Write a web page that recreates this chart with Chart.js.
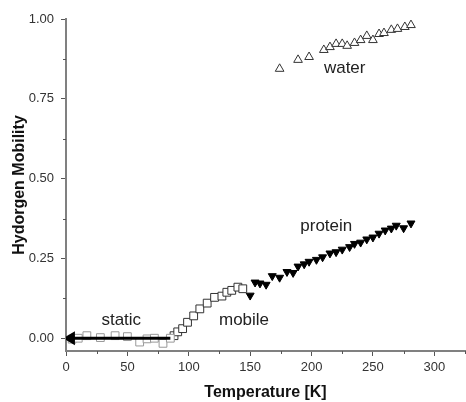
<!DOCTYPE html>
<html>
<head>
<meta charset="utf-8">
<script src="https://cdn.jsdelivr.net/npm/chart.js@4/dist/chart.umd.min.js"></script>
<style>
  body { margin: 0; background: #fff; }
  #wrap { width: 466px; height: 402px; }
</style>
</head>
<body>
<div id="wrap"><canvas id="chart" width="466" height="402"></canvas></div>
<script>
// temperature [K] / mobility
const staticT = [5, 10, 17, 28, 40, 50, 60, 66, 72, 79, 85]
const staticV = [-0.003, 0.0, 0.008, 0.002, 0.008, 0.005, -0.012, -0.002, 0.0, -0.016, 0.0]

const mobileT = [88, 91, 95, 99, 104, 109, 115, 121, 127, 131, 135, 140, 144]
const mobileV = [0.008, 0.02, 0.03, 0.05, 0.07, 0.092, 0.11, 0.128, 0.132, 0.144, 0.15, 0.16, 0.155]

const proteinT = [150, 154, 158, 163, 168, 174, 180, 185, 189, 194, 198, 204, 209, 215, 220, 225, 231, 235, 240, 245, 250, 255, 260, 265, 269, 275, 281]
const proteinV = [0.134, 0.175, 0.172, 0.168, 0.195, 0.19, 0.208, 0.205, 0.225, 0.232, 0.24, 0.246, 0.254, 0.266, 0.27, 0.278, 0.286, 0.296, 0.3, 0.31, 0.316, 0.328, 0.338, 0.344, 0.353, 0.345, 0.36]

const waterT = [174, 189, 198, 210, 215, 220, 225, 229, 235, 240, 245, 250, 255, 259, 265, 270, 276, 281]
const waterV = [0.844, 0.872, 0.881, 0.903, 0.912, 0.922, 0.922, 0.916, 0.925, 0.934, 0.947, 0.934, 0.953, 0.956, 0.966, 0.969, 0.975, 0.981]

// thick "static" arrow
const arrowT = [4, 85]
const arrowV = [0, 0]

const xTicks = [0, 50, 100, 150, 200, 250, 300]
const yTicks = [0, 0.25, 0.5, 0.75, 1.0]

const notes = [
    { text: 'static', x: 45, y: 0.056 },
    { text: 'mobile', x: 145, y: 0.056 },
    { text: 'protein', x: 212, y: 0.35 },
    { text: 'water', x: 227, y: 0.847 }
]

function pts(xs, ys) {
    return xs.map((x, i) => ({ x: x, y: ys[i] }))
}

// text labels and minor ticks
const extras = {
    id: 'extras',
    afterDraw(chart) {
        const ctx = chart.ctx
        const xs = chart.scales.x, ys = chart.scales.y
        ctx.save()
        ctx.strokeStyle = '#555'
        ctx.lineWidth = 1
        for (let v = 25; v < 330; v += 50) {
            let px = Math.round(xs.getPixelForValue(v)) + 0.5
            ctx.beginPath(); ctx.moveTo(px, ys.bottom); ctx.lineTo(px, ys.bottom + 3); ctx.stroke()
        }
        for (let v = 0.125; v < 1; v += 0.25) {
            let py = Math.round(ys.getPixelForValue(v)) + 0.5
            ctx.beginPath(); ctx.moveTo(xs.left, py); ctx.lineTo(xs.left - 3, py); ctx.stroke()
        }
        ctx.font = '17px "Liberation Sans", Arial, sans-serif'
        ctx.fillStyle = '#222'
        ctx.textAlign = 'center'
        ctx.textBaseline = 'middle'
        notes.forEach(n => {
            ctx.fillText(n.text, xs.getPixelForValue(n.x), ys.getPixelForValue(n.y))
        })
        ctx.restore()
    }
}

new Chart(document.getElementById('chart'), {
    type: 'scatter',
    data: {
        datasets: [
            {
                data: pts(arrowT, arrowV),
                showLine: true,
                borderColor: '#000',
                borderWidth: 3,
                pointStyle: 'triangle',
                pointRadius: [5, 0],
                pointRotation: 270,
                pointBackgroundColor: '#000',
                pointBorderColor: '#000'
            },
            {
                data: pts(staticT, staticV),
                pointStyle: 'rect',
                pointRadius: 5.5,
                borderWidth: 1,
                borderColor: '#999',
                backgroundColor: '#fff'
            },
            {
                data: pts(mobileT, mobileV),
                pointStyle: 'rect',
                pointRadius: 5.5,
                borderWidth: 1,
                borderColor: '#333',
                backgroundColor: '#fff'
            },
            {
                data: pts(proteinT, proteinV),
                pointStyle: 'triangle',
                pointRotation: 180,
                pointRadius: 4.6,
                borderWidth: 1,
                borderColor: '#000',
                backgroundColor: '#000'
            },
            {
                data: pts(waterT, waterV),
                pointStyle: 'triangle',
                pointRadius: 5,
                borderWidth: 1,
                borderColor: '#333',
                backgroundColor: '#fff'
            }
        ]
    },
    options: {
        responsive: false,
        animation: false,
        devicePixelRatio: 1,
        layout: { autoPadding: false, padding: { top: 19, right: 1, left: 0, bottom: 0 } },
        plugins: {
            legend: { display: false },
            tooltip: { enabled: false }
        },
        scales: {
            x: {
                type: 'linear',
                min: 0,
                max: 325,
                afterBuildTicks: s => { s.ticks = xTicks.map(v => ({ value: v })) },
                afterFit: s => { s.height = 51; s.paddingLeft = 0; s.paddingRight = 0 },
                border: { color: '#808080', width: 2 },
                grid: { drawOnChartArea: false, drawTicks: true, tickLength: 5, color: '#555' },
                ticks: {
                    color: '#333',
                    padding: 4,
                    maxRotation: 0,
                    font: { size: 13, family: '"Liberation Sans", Arial, sans-serif' }
                },
                title: {
                    display: true,
                    text: 'Temperature [K]',
                    color: '#111',
                    padding: 0,
                    font: { size: 16, weight: 'bold', family: '"Liberation Sans", Arial, sans-serif' }
                }
            },
            y: {
                min: -0.04,
                max: 1.0,
                afterBuildTicks: s => { s.ticks = yTicks.map(v => ({ value: v })) },
                afterFit: s => { s.width = 66 },
                border: { color: '#808080', width: 2 },
                grid: { drawOnChartArea: false, drawTicks: true, tickLength: 5, color: '#555' },
                ticks: {
                    color: '#333',
                    padding: 7,
                    callback: v => v.toFixed(2),
                    font: { size: 13, family: '"Liberation Sans", Arial, sans-serif' }
                },
                title: {
                    display: true,
                    text: 'Hydorgen Mobility',
                    color: '#111',
                    padding: { top: 10, bottom: 0 },
                    font: { size: 16, weight: 'bold', family: '"Liberation Sans", Arial, sans-serif' }
                }
            }
        }
    },
    plugins: [extras]
})
</script>
</body>
</html>
